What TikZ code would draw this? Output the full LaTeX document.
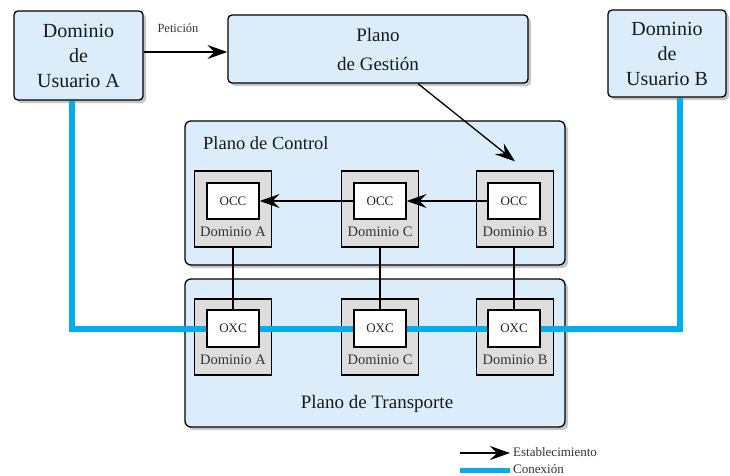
\documentclass[tikz,border=0pt]{standalone}
\usepackage{fontspec}
\setmainfont{Liberation Serif}
\usetikzlibrary{arrows.meta,shadows}
\definecolor{planefill}{RGB}{219,237,251}
\definecolor{domgray}{RGB}{221,221,221}
\definecolor{conncol}{RGB}{0,174,239}
\begin{document}
\begin{tikzpicture}[x=1pt,y=-1pt,
  shadowed/.style={drop shadow={shadow xshift=3pt,shadow yshift=-3pt,fill=black!22,opacity=1}},
  userbox/.style={draw=black,line width=1.3pt,fill=planefill,rounded corners=4pt,shadowed,inner sep=0pt,align=center,text=black!90},
  planebox/.style={draw=black,line width=1.3pt,fill=planefill,rounded corners=6pt,shadowed,inner sep=0pt},
  graybox/.style={draw=black,line width=1.3pt,fill=domgray,minimum width=77pt,minimum height=76pt,inner sep=0pt},
  whitebox/.style={draw=black,line width=1.3pt,fill=white,minimum width=52pt,minimum height=36pt,inner sep=0pt,font=\fontsize{13}{13}\selectfont,text=black!85},
  dlabel/.style={inner sep=0pt,font=\fontsize{14.5}{14.5}\selectfont,text=black!80},
  estab/.style={draw=black,line width=1.3pt,-{Stealth[length=20pt,width=14pt,inset=7pt]}},
  thinline/.style={draw=black,line width=1.3pt},
  conn/.style={draw=conncol,line width=6pt}
]
\useasboundingbox (0,0) rectangle (730,475);

% user domains and management plane
\node[userbox,minimum width=129pt,minimum height=89pt,font=\fontsize{20}{25}\selectfont] (uA) at (78.5,55.5) {Dominio\\de\\Usuario A};
\node[userbox,minimum width=300pt,minimum height=68pt,font=\fontsize{19}{29}\selectfont] (pg) at (378,49) {Plano\\de Gestión};
\node[userbox,minimum width=118pt,minimum height=87pt,font=\fontsize{20}{25}\selectfont] (uB) at (667,53.5) {Dominio\\de\\Usuario B};

% planes
\node[planebox,minimum width=380pt,minimum height=144pt] (cp) at (375,193) {};
\node[anchor=base west,inner sep=0pt,font=\fontsize{18.5}{18.5}\selectfont,text=black!90] (cpl) at (203,149) {Plano de Control};
\node[planebox,minimum width=380pt,minimum height=148pt] (tp) at (375,353) {};
\node[anchor=base,inner sep=0pt,font=\fontsize{19}{19}\selectfont,text=black!90] (tpl) at (377,408) {Plano de Transporte};

% control domains
\node[graybox] (gcA) at (233,209) {};
\node[graybox] (gcC) at (380,209) {};
\node[graybox] (gcB) at (515,209) {};
\node[whitebox] (ocA) at (233,201) {OCC};
\node[whitebox] (ocC) at (380,201) {OCC};
\node[whitebox] (ocB) at (514,201) {OCC};
\node[dlabel] (lcA) at (233,232) {Dominio A};
\node[dlabel] (lcC) at (380,232) {Dominio C};
\node[dlabel] (lcB) at (515,232) {Dominio B};

% transport domains
\node[graybox] (gtA) at (233,337) {};
\node[graybox] (gtC) at (380,337) {};
\node[graybox] (gtB) at (515,337) {};

% connections (blue)
\draw[conn] ([xshift=-6.5pt]uA.south) |- (233,328.5) coordinate (cA);
\draw[conn] ([xshift=13pt]uB.south) |- (514,328.5) coordinate (cB);
\draw[conn] (cA) -- (cB);

\node[whitebox,minimum height=37pt] (oxA) at (233,328.5) {OXC};
\node[whitebox,minimum height=37pt] (oxC) at (380,328.5) {OXC};
\node[whitebox,minimum height=37pt] (oxB) at (514,328.5) {OXC};
\node[dlabel] (ltA) at (233,360) {Dominio A};
\node[dlabel] (ltC) at (380,360) {Dominio C};
\node[dlabel] (ltB) at (515,360) {Dominio B};

% vertical links
\draw[thinline] (gcA.south) -- (oxA.north);
\draw[thinline] (gcC.south) -- (oxC.north);
\draw[thinline] (ocB.south |- gcB.south) -- (oxB.north);

% establishment arrows
\draw[estab] ([yshift=3.5pt]uA.east) -- ([yshift=3.5pt]uA.east -| pg.west);
\node[inner sep=0pt,font=\fontsize{12.5}{12.5}\selectfont,text=black!80] (pet) at (178,28) {Petición};
\draw[estab] ([xshift=40pt]pg.south) -- ([yshift=9pt]gcB.north);
\draw[estab] (ocB.west) -- (ocC.east);
\draw[estab] (ocC.west) -- (ocA.east);

% legend
\coordinate (l1a) at (460,453);
\coordinate (l1b) at (510,453);
\coordinate (l2a) at (460,470);
\coordinate (l2b) at (510,470);
\draw[estab] (l1a) -- (l1b);
\draw[draw=conncol,line width=5pt] (l2a) -- (l2b);
\node[anchor=west,inner sep=0pt,font=\fontsize{13}{13}\selectfont,text=black!80] (lt1) at (513,452) {Establecimiento};
\node[anchor=west,inner sep=0pt,font=\fontsize{13}{13}\selectfont,text=black!80] (lt2) at (513,469) {Conexión};
\end{tikzpicture}
\end{document}
